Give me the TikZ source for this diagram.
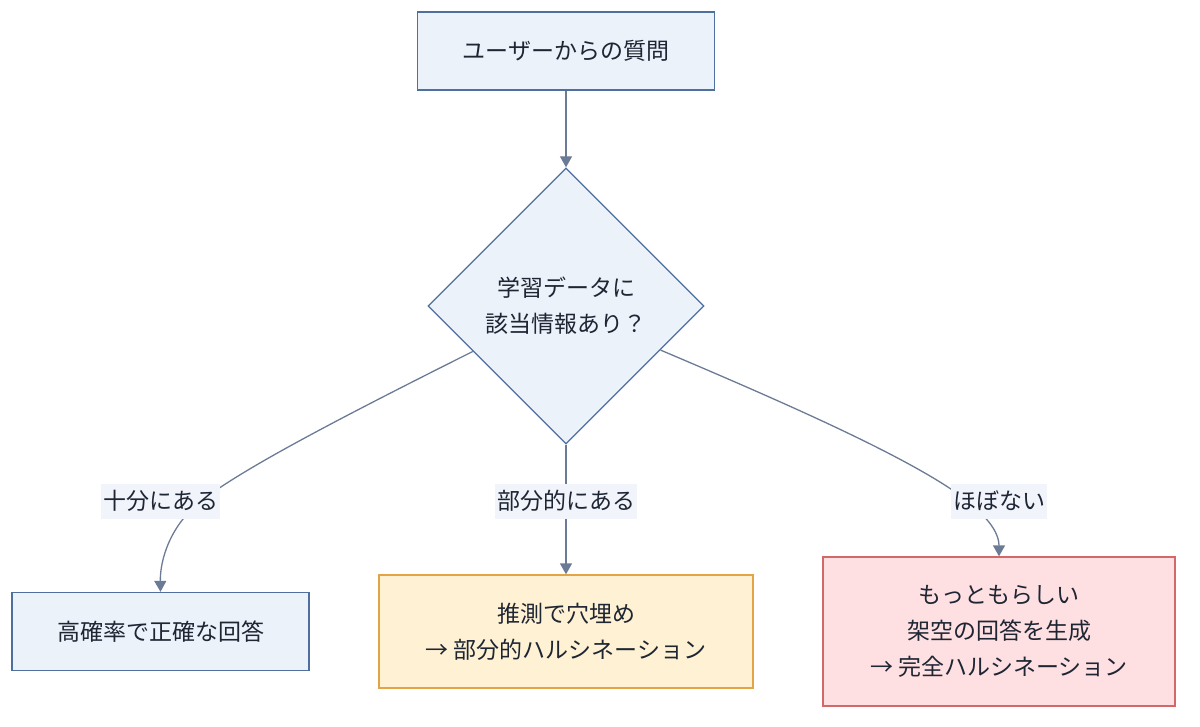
\documentclass[tikz,border=0pt]{standalone}
\usepackage{fontspec}
\setmainfont{Noto Sans CJK JP}
\usetikzlibrary{shapes.geometric,arrows.meta}
\definecolor{ink}{HTML}{1E2533}
\definecolor{bluefill}{HTML}{ECF2FA}
\definecolor{blueline}{HTML}{4F6F9E}
\definecolor{orgfill}{HTML}{FFF2D4}
\definecolor{orgline}{HTML}{E3A445}
\definecolor{redfill}{HTML}{FFE0E2}
\definecolor{redline}{HTML}{D26868}
\definecolor{edgec}{HTML}{6B7B96}
\definecolor{lblfill}{HTML}{F1F5FB}
\begin{document}
\begin{tikzpicture}[x=1pt,y=-1pt]
  \tikzstyle{every node}=[font=\fontsize{23}{36}\selectfont,text=ink,align=center]
  \tikzstyle{blubox}=[draw=blueline,fill=bluefill,line width=1.3pt,inner sep=0pt,minimum width=297pt,minimum height=78pt]
  \tikzstyle{orgbox}=[draw=orgline,fill=orgfill,line width=1.3pt,inner sep=0pt]
  \tikzstyle{redbox}=[draw=redline,fill=redfill,line width=1.3pt,inner sep=0pt]
  \tikzstyle{decision}=[diamond,aspect=1,draw=blueline,fill=bluefill,line width=1.3pt,inner sep=0pt,minimum width=276pt,minimum height=276pt]
  \tikzstyle{edge}=[draw=edgec,line width=1.3pt,-{Triangle[width=12pt,length=11pt]}]
  \tikzstyle{lbl}=[fill=lblfill,inner xsep=2pt,inner ysep=0pt,minimum height=35pt]
  \def\rowy{631.5} % centre of the answer row
  \def\lbly{501} % centre of the edge labels
  \useasboundingbox (0,0) rectangle (1200,727);
  \node[blubox] (user) at (566,51) {ユーザーからの質問};
  \node[decision] (data) at (566,306) {学習データに\\該当情報あり？};
  \node[blubox] (exact) at (160.5,\rowy) {高確率で正確な回答};
  \node[orgbox,minimum width=374pt,minimum height=113pt] (part) at (566,\rowy) {推測で穴埋め\\→ 部分的ハルシネーション};
  \node[redbox,minimum width=352pt,minimum height=149pt] (full) at (999,\rowy) {もっともらしい\\架空の回答を生成\\→ 完全ハルシネーション};
  \draw[edge] (user) -- (data);
  \draw[edge] (data.206) .. controls (340,418) and (240,470) .. (200,502)
                         .. controls (170,526) and (160,560) .. (exact.north);
  \draw[edge] (data) -- (part);
  \draw[edge] (data.335) .. controls (790,405) and (920,462) .. (970,503)
                         .. controls (992,522) and (999,535) .. (full.north);
  \node[lbl] (enough) at (160.5,\lbly) {十分にある};
  \node[lbl] (partly) at (566,\lbly) {部分的にある};
  \node[lbl] (hardly) at (999,\lbly) {ほぼない};
\end{tikzpicture}
\end{document}
